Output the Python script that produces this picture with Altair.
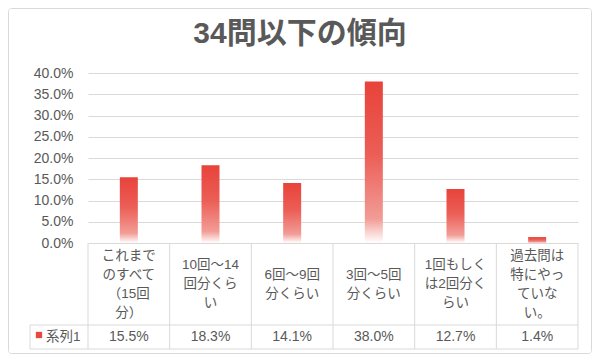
import altair as alt
import pandas as pd

# ---- data ----
categories = [
    "これまでのすべて（15回分）",
    "10回～14回分くらい",
    "6回～9回分くらい",
    "3回～5回分くらい",
    "1回もしくは2回分くらい",
    "過去問は特にやっていない。",
]
category_lines = [
    ["これまで", "のすべて", "（15回", "分）"],
    ["10回～14", "回分くら", "い"],
    ["6回～9回", "分くらい"],
    ["3回～5回", "分くらい"],
    ["1回もしく", "は2回分く", "らい"],
    ["過去問は", "特にやっ", "ていな", "い。"],
]
values = [0.155, 0.183, 0.141, 0.380, 0.127, 0.014]
series_name = "系列1"
y_ticks = [0.0, 0.05, 0.10, 0.15, 0.20, 0.25, 0.30, 0.35, 0.40]
title_text = "34問以下の傾向"

FONT = '"Liberation Sans", "Noto Sans CJK JP", sans-serif'
TXT = "#595959"
LINE = "#d9d9d9"
LINE_H = 19

df = pd.DataFrame({"cat": categories, "value": values})
series_df = pd.DataFrame({"series": [series_name]})
title_df = pd.DataFrame({"title": [title_text]})

label_rows = []
for cat, lines in zip(categories, category_lines):
    n = len(lines)
    for i, ln in enumerate(lines):
        label_rows.append({"cat": cat, "line": ln, "dy": (i - (n - 1) / 2) * LINE_H})
label_df = pd.DataFrame(label_rows)

xscale = alt.Scale(domain=categories, paddingInner=0, paddingOuter=0)
x_enc = alt.X("cat:N", sort=categories, scale=xscale, axis=None)

grad = alt.Gradient(
    gradient="linear",
    stops=[
        alt.GradientStop(color="#E8433A", offset=0),
        alt.GradientStop(color="#EB5E56", offset=0.45),
        alt.GradientStop(color="#F29C96", offset=0.85),
        alt.GradientStop(color="#FFFFFF", offset=1),
    ],
    x1=0, x2=0, y1=0, y2=1,
)

frame = alt.Chart(series_df).mark_rect(
    fill="transparent", stroke=LINE, strokeWidth=1, cornerRadius=3
).encode(
    x=alt.value(-79.5), x2=alt.value(503.5), y=alt.value(-64.5), y2=alt.value(280.5)
)

title = alt.Chart(title_df).mark_text(
    align="center", baseline="middle", fontSize=30, fontWeight="bold",
    font=FONT, color=TXT,
).encode(x=alt.value(212), y=alt.value(-39), text="title:N")

bars = alt.Chart(df).mark_bar(size=18, color=grad).encode(
    x=x_enc,
    y=alt.Y(
        "value:Q",
        scale=alt.Scale(domain=[0, 0.4], nice=False),
        axis=alt.Axis(
            values=y_ticks, format=".1%", title=None, domain=False, ticks=False,
            labelPadding=15, labelFontSize=14, labelColor=TXT, labelFont=FONT,
            gridColor=LINE, gridWidth=1,
        ),
    ),
)

cat_text = alt.Chart(label_df).mark_text(
    align="center", baseline="middle", fontSize=13.5, font=FONT, color=TXT,
).encode(
    x=x_enc,
    y=alt.value(211),
    yOffset=alt.YOffset("dy:Q", scale=None),
    text="line:N",
)

val_text = alt.Chart(df).mark_text(
    align="center", baseline="middle", fontSize=14, font=FONT, color=TXT,
).encode(x=x_enc, y=alt.value(264), text=alt.Text("value:Q", format=".1%"))

vlines = alt.Chart(df).mark_rule(color=LINE, strokeWidth=1).encode(
    x=alt.X("cat:N", sort=categories, scale=xscale, axis=None, bandPosition=0),
    y=alt.value(170), y2=alt.value(276),
)
vline_end = alt.Chart(df.tail(1)).mark_rule(color=LINE, strokeWidth=1).encode(
    x=alt.X("cat:N", sort=categories, scale=xscale, axis=None, bandPosition=1),
    y=alt.value(170), y2=alt.value(276),
)
vline_legend = alt.Chart(series_df).mark_rule(color=LINE, strokeWidth=1).encode(
    x=alt.value(-58), y=alt.value(252), y2=alt.value(276)
)
hline_mid = alt.Chart(series_df).mark_rule(color=LINE, strokeWidth=1).encode(
    x=alt.value(-58), x2=alt.value(490), y=alt.value(252)
)
hline_bot = alt.Chart(series_df).mark_rule(color=LINE, strokeWidth=1).encode(
    x=alt.value(-58), x2=alt.value(490), y=alt.value(276)
)

legend_mark = alt.Chart(series_df).mark_square(
    size=40, color="#E8483F", opacity=1, filled=True
).encode(x=alt.value(-49), y=alt.value(262))

legend_text = alt.Chart(series_df).mark_text(
    align="left", baseline="middle", fontSize=13.5, font=FONT, color=TXT
).encode(x=alt.value(-42), y=alt.value(264), text="series:N")

chart = alt.layer(
    frame, title, bars, cat_text, val_text, vlines, vline_end, vline_legend,
    hline_mid, hline_bot, legend_mark, legend_text,
).properties(
    width=490,
    height=170,
    autosize=alt.AutoSizeParams(type="none"),
    padding={"left": 80, "top": 65, "right": 14, "bottom": 111},
).configure_view(stroke=None)

chart.save("out.html", embed_options={"renderer": "svg", "actions": False})
